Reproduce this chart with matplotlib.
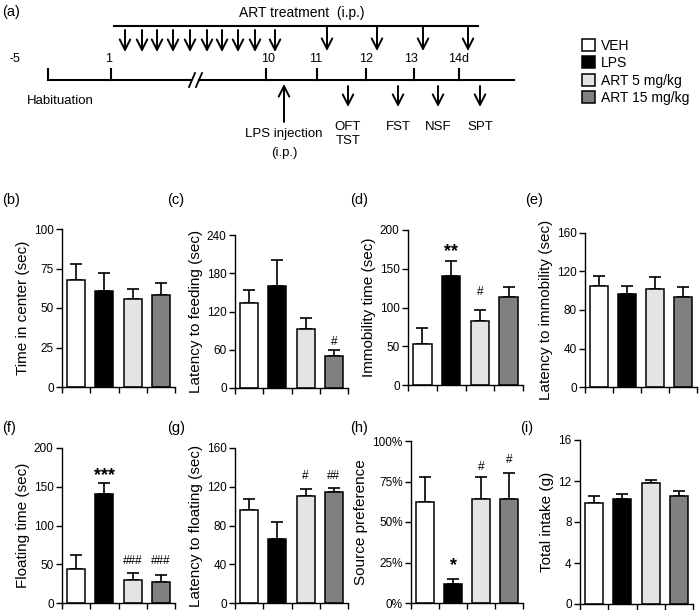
import numpy as np
import matplotlib
matplotlib.use('Agg')
import matplotlib.pyplot as plt
from matplotlib.ticker import PercentFormatter

plt.rcParams['font.family'] = ['Liberation Sans', 'DejaVu Sans']

W, H = 700, 610

groups = ['VEH', 'LPS', 'ART 5 mg/kg', 'ART 15 mg/kg']
colors = ['white', 'black', '#e4e4e4', '#808080']

# panel data: mean, upper error
time_center = [68, 61, 56, 58]
time_center_err = [10, 11, 6, 8]
lat_feeding = [133, 160, 93, 50]
lat_feeding_err = [21, 41, 17, 10]
immobility = [53, 141, 82, 114]
immobility_err = [21, 19, 15, 12]
lat_immobility = [104.5, 97, 102, 93.5]
lat_immobility_err = [10.5, 8, 12, 10]
floating = [44, 141, 30, 27]
floating_err = [18, 14, 9, 9]
lat_floating = [96, 66, 110, 115]
lat_floating_err = [11, 18, 8, 4]
preference = [62.5, 12, 64, 64.5]
preference_err = [15.5, 3, 14, 15.5]
intake = [9.9, 10.2, 11.8, 10.5]
intake_err = [0.6, 0.5, 0.3, 0.5]

# timeline (a)
day_labels = ['-5', '1', '10', '11', '12', '13', '14d']
test_labels = ['OFT\nTST', 'FST', 'NSF', 'SPT']

fig = plt.figure(figsize=(W / 100, H / 100), dpi=100)

# overlay in pixel units for the schematic and panel letters
ov = fig.add_axes([0, 0, 1, 1])
ov.set_xlim(0, W)
ov.set_ylim(H, 0)
ov.axis('off')

def arrow(x, y0, y1, lw=1.4):
    ov.annotate('', xy=(x, y1), xytext=(x, y0),
                arrowprops=dict(arrowstyle='->,head_length=0.75,head_width=0.38',
                                lw=lw, color='black', shrinkA=0, shrinkB=0))

ov.text(2, 12, '(a)', fontsize=10.5, va='center', ha='left')
ov.text(302, 13, 'ART treatment  (i.p.)', fontsize=10, va='center', ha='center')
ov.plot([114, 478], [26, 26], color='black', lw=1.5)
art_x = [125, 142, 157, 173, 190, 207, 222, 238, 255, 275]
for x in art_x:
    arrow(x, 30, 52)
for x in [327, 377, 423, 468]:
    arrow(x, 27, 51)

tick_x = [48, 111, 266, 317, 366, 414, 459]
label_x = [15, 109, 268, 316, 366, 411, 459]
ov.plot([48, 191], [80, 80], color='black', lw=1.5)
ov.plot([199, 514], [80, 80], color='black', lw=1.5)
ov.plot([189, 195], [87, 73], color='black', lw=1.3)
ov.plot([196, 202], [87, 73], color='black', lw=1.3)
for tx, lx, lab in zip(tick_x, label_x, day_labels):
    ov.plot([tx, tx], [69, 80], color='black', lw=1.5)
    ov.text(lx, 59, lab, fontsize=9, ha='center', va='center')

ov.text(60, 101, 'Habituation', fontsize=9.5, ha='center', va='center')
arrow(284, 122, 84)
ov.text(284, 134, 'LPS injection', fontsize=9.5, ha='center', va='center')
ov.text(284, 153, '(i.p.)', fontsize=9.5, ha='center', va='center')
test_x = [348, 398, 438, 480]
for x, lab in zip(test_x, test_labels):
    arrow(x, 86, 107)
    ov.text(x, 121, lab, fontsize=9.5, ha='center', va='top', linespacing=1.2)

panels = [
    ('(b)', time_center, time_center_err, [0, 25, 50, 75, 100], 'Time in center (sec)',
     (62, 175, 229, 387), [], (2, 200)),
    ('(c)', lat_feeding, lat_feeding_err, [0, 60, 120, 180, 240], 'Latency to feeding (sec)',
     (235, 348, 235, 388), [(3, '#', 72, 8.5)], (167, 200)),
    ('(d)', immobility, immobility_err, [0, 50, 100, 150, 200], 'Immobility time (sec)',
     (408, 523, 230, 385), [(1, '**', 172, 13), (2, '#', 120, 8.5)], (350, 200)),
    ('(e)', lat_immobility, lat_immobility_err, [0, 40, 80, 120, 160], 'Latency to immobility (sec)',
     (585, 697, 233, 387), [], (525, 200)),
    ('(f)', floating, floating_err, [0, 50, 100, 150, 200], 'Floating time (sec)',
     (62, 175, 448, 603), [(1, '***', 165, 13), (2, '###', 54, 8.5), (3, '###', 54, 8.5)], (2, 428)),
    ('(g)', lat_floating, lat_floating_err, [0, 40, 80, 120, 160], 'Latency to floating (sec)',
     (235, 348, 448, 603), [(2, '#', 131, 8.5), (3, '##', 131, 8.5)], (167, 428)),
    ('(h)', preference, preference_err, [0, 25, 50, 75, 100], 'Source preference',
     (411, 523, 441, 603), [(1, '*', 23, 13), (2, '#', 84, 8.5), (3, '#', 88, 8.5)], (350, 428)),
    ('(i)', intake, intake_err, [0, 4, 8, 12, 16], 'Total intake (g)',
     (580, 693, 440, 604), [], (520, 428)),
]

xpos = np.arange(len(groups))
legend_bars = None
for letter, vals, errs, yt, ylab, box, marks, lpos in panels:
    l, r, t, b = box
    ax = fig.add_axes([l / W, 1 - b / H, (r - l) / W, (b - t) / H])
    bars = ax.bar(xpos, vals, width=0.64, color=colors, edgecolor='black', linewidth=1.1, zorder=2)
    ax.errorbar(xpos, vals, yerr=[np.zeros(len(vals)), errs], fmt='none', ecolor='black',
                elinewidth=1.2, capsize=4, capthick=1.2, zorder=1)
    if legend_bars is None:
        legend_bars = bars
    ax.set_xlim(-0.5, 3.5)
    ax.set_ylim(yt[0], yt[-1])
    ax.set_yticks(yt)
    ax.set_xticks(np.arange(-0.5, 4, 1))
    ax.set_xticklabels([])
    for s in ['top', 'right']:
        ax.spines[s].set_visible(False)
    for s in ['left', 'bottom']:
        ax.spines[s].set_linewidth(1.0)
    ax.tick_params(axis='both', direction='out', length=4, width=1, labelsize=8.5, pad=2)
    ax.set_ylabel(ylab, fontsize=11, labelpad=3)
    if letter == '(h)':
        ax.yaxis.set_major_formatter(PercentFormatter(decimals=0))
    for i, txt, yv, fs in marks:
        ax.text(xpos[i], yv, txt, ha='center', va='center', fontsize=fs,
                fontweight='bold' if '*' in txt else 'normal')
    ax.patch.set_alpha(0)
    ov.text(lpos[0], lpos[1], letter, fontsize=10.5, ha='left', va='center')

fig.legend(legend_bars, groups, loc='upper left', bbox_to_anchor=(576 / W, 1 - 33 / H),
           frameon=False, fontsize=10, handlelength=1.0, handleheight=1.0,
           handletextpad=0.4, labelspacing=0.25, borderaxespad=0)

fig.savefig('out.png', dpi=100)
